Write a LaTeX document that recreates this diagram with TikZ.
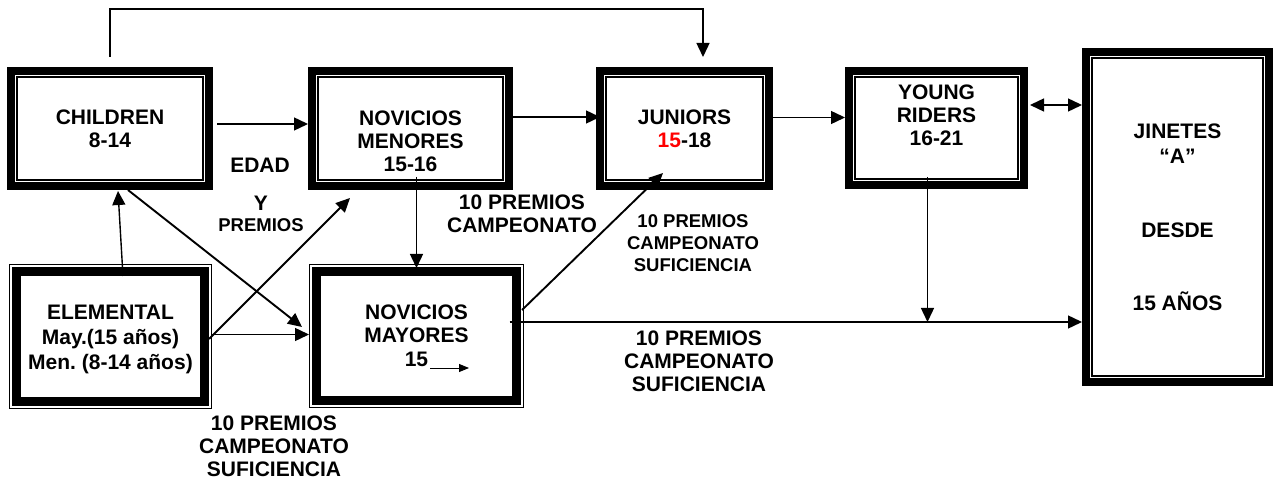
\documentclass[tikz,border=0pt]{standalone}
\usepackage{fontspec}
\setmainfont{Liberation Sans}
\usetikzlibrary{arrows.meta}
\frenchspacing
\newcommand{\bigfnt}{\fontsize{21}{23}\selectfont\bfseries}
\newcommand{\smallfnt}{\fontsize{18.5}{22}\selectfont\bfseries}

\begin{document}
\begin{tikzpicture}[x=1pt,y=-1pt,
    boxa/.style={draw,line width=8pt,inner sep=0pt,align=center,font=\bigfnt},
    boxb/.style={draw,line width=1pt,inner sep=0pt,align=center,font=\bigfnt},
    lbl/.style={align=center,inner sep=0pt,font=\bigfnt},
    slbl/.style={align=center,inner sep=0pt,font=\smallfnt},
    arr/.style={line width=1.4pt,-{Triangle[length=14pt,width=13pt]}},
    darr/.style={line width=1.9pt,-{Triangle[length=14pt,width=13pt]}},
    arrboth/.style={line width=1.4pt,{Triangle[length=14pt,width=13pt]}-{Triangle[length=14pt,width=13pt]}}]
    \useasboundingbox (0,0) rectangle (1278,481);

    \node[boxa,minimum width=198pt,minimum height=115pt] (child) at (110,128.5) {CHILDREN\\8-14};
    \node[boxa,minimum width=197pt,minimum height=115pt] (nmen) at (410.5,128.5) {};
    \node[boxa,minimum width=169pt,minimum height=115pt] (jun) at (684.5,128.5) {JUNIORS\\\textcolor{red}{15}-18};
    \node[boxa,minimum width=175pt,minimum height=114pt] (yr) at (936.5,128) {};
    \node[boxa,minimum width=183pt,minimum height=330pt] (jin) at (1177.5,217) {JINETES\\[2pt]“A”\\[51pt]DESDE\\[50pt]15 AÑOS};
    \node[boxb,minimum width=202pt,minimum height=144pt] (elem) at (110.5,336.5) {};
    \node[boxb,minimum width=214pt,minimum height=143pt] (nmay) at (416.5,336) {NOVICIOS\\MAYORES\\[1pt]15};

    \node[lbl] (nmen-t) at (410.5,141.5) {NOVICIOS\\MENORES\\15-16};
    \node[lbl] (yr-t) at (936.5,115.5) {YOUNG\\RIDERS\\16-21};
    \node[lbl] (elem-t) at (110.5,339.5) {ELEMENTAL\\[2pt]May.(15 años)\\[2pt]Men. (8-14 años)};

    \foreach \b in {child,nmen,jun,yr,jin}
        \draw[line width=1.1pt] ([shift={(10pt,-10pt)}]\b.north west) rectangle ([shift={(-10pt,10pt)}]\b.south east);
    \foreach \b in {elem,nmay}
        \draw[line width=9pt] ([shift={(7.5pt,-7.5pt)}]\b.north west) rectangle ([shift={(-7.5pt,7.5pt)}]\b.south east);

    \node[lbl] (edad) at (260,165.5) {EDAD};
    \node[lbl] (y) at (261,203.5) {Y};
    \node[slbl] (premios) at (261,225) {PREMIOS};
    \node[lbl] (lab1) at (522,214) {10 PREMIOS\\CAMPEONATO};
    \node[slbl] (lab2) at (693,243.5) {10 PREMIOS\\CAMPEONATO\\SUFICIENCIA};
    \node[lbl] (lab3) at (699,361) {10 PREMIOS\\CAMPEONATO\\SUFICIENCIA};
    \node[lbl] (lab4) at (274,446.5) {10 PREMIOS\\CAMPEONATO\\SUFICIENCIA};

    \draw[arr] ([yshift=10pt]child.north) -- ++(0,-48) -| ([shift={(18.5pt,10pt)}]jun.north);
    \draw[arr] ([shift={(4pt,4.5pt)}]child.east) -- ([yshift=4.5pt]nmen.west);
    \draw[arr] ([yshift=11.5pt]nmen.east) -- ([shift={(4pt,11.5pt)}]jun.west);
    \draw[arr] ([yshift=11pt]jun.east) -- ([yshift=11pt]jun.east -| yr.west);
    \draw[arrboth] ([shift={(2pt,23pt)}]yr.east) -- ([yshift=23pt]yr.east -| jin.west);

    \coordinate (mainl) at ([shift={(-14.5pt,14pt)}]nmay.east);
    \draw[arr] (mainl) -- (mainl -| jin.west);
    \draw[arr] ([shift={(-9pt,12pt)}]yr.south) -- ([xshift=-9pt]yr.south |- mainl);
    \draw[arr] ([yshift=13pt]nmen.south -| nmay.north) -- ([yshift=-4pt]nmay.north);

    \draw[darr] ([shift={(-2pt,26pt)}]nmay.east) -- ([shift={(-21.5pt,17pt)}]jun.south);
    \draw[darr] ([xshift=18pt]child.south) -- ([shift={(-7pt,9pt)}]nmay.west);
    \draw[darr] ([shift={(-3pt,-2.5pt)}]elem.east) -- ([shift={(-60.5pt,-8pt)}]nmen.south);
    \draw[arr] ([yshift=2pt]elem.east) -- ([yshift=2pt]elem.east -| nmay.west);
    \draw[arr] ([shift={(12.5pt,-12pt)}]elem.north) -- ([shift={(8pt,-1pt)}]child.south);

    \draw[line width=1pt,-{Triangle[length=10pt,width=8pt]}] ([shift={(13.5pt,-32pt)}]nmay.center) -- ++(39,0);
\end{tikzpicture}
\end{document}
